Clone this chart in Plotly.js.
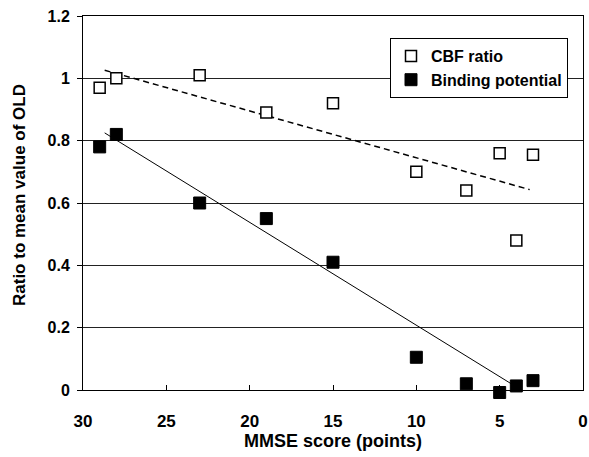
<!DOCTYPE html>
<html>
<head>
<meta charset="utf-8">
<script src="https://cdn.plot.ly/plotly-3.0.1.min.js"></script>
<style>html,body{margin:0;padding:0;background:#fff;}#chart{width:589px;height:457px;}</style>
</head>
<body>
<div id="chart"></div>
<script>
// MMSE score (points) for each subject
const mmse = [29, 28, 23, 19, 15, 10, 7, 5, 4, 3];
// CBF ratio (ratio to mean value of OLD)
const cbfRatio = [0.97, 1.00, 1.01, 0.89, 0.92, 0.70, 0.64, 0.76, 0.48, 0.755];
// Binding potential (ratio to mean value of OLD)
const bindingPotential = [0.78, 0.82, 0.60, 0.55, 0.41, 0.105, 0.02, -0.008, 0.013, 0.03];
// Linear trend lines, end points
const cbfTrendX = [28.7, 3.2];
const cbfTrendY = [1.026, 0.643];
const bpTrendX = [28.7, 3.7];
const bpTrendY = [0.825, 0.0];
const seriesNames = ["CBF ratio", "Binding potential"];
const yTitle = "Ratio to mean value of OLD";
const xTitle = "MMSE score (points)";

const FONT = "Liberation Sans, Arial, sans-serif";
const YMAX = 1.2;
const PLOT_TOP = 16, AXIS_Y = 390, PLOT_BOTTOM = 410; // px
const pxPerUnit = (AXIS_Y - PLOT_TOP) / YMAX;
const extra = (PLOT_BOTTOM - AXIS_Y) / pxPerUnit;
const mainDomainBottom = (PLOT_BOTTOM - AXIS_Y) / (PLOT_BOTTOM - PLOT_TOP);

const traces = [
  {
    x: cbfTrendX, y: cbfTrendY, mode: "lines", showlegend: false,
    line: {color: "#000", width: 1.5, dash: "6px,4px"}, hoverinfo: "skip"
  },
  {
    x: bpTrendX, y: bpTrendY, mode: "lines", showlegend: false,
    line: {color: "#000", width: 1}, hoverinfo: "skip"
  },
  {
    x: mmse, y: cbfRatio, mode: "markers", name: seriesNames[0], cliponaxis: false, yaxis: "y2",
    marker: {symbol: "square", size: 11, color: "#fff", line: {color: "#000", width: 1.5}}
  },
  {
    x: mmse, y: bindingPotential, mode: "markers", name: seriesNames[1], cliponaxis: false, yaxis: "y2",
    marker: {symbol: "square", size: 12, color: "#000", line: {color: "#000", width: 1}}
  }
];

const layout = {
  width: 589, height: 457,
  margin: {l: 83, r: 6, t: PLOT_TOP, b: 457 - PLOT_BOTTOM},
  paper_bgcolor: "#fff", plot_bgcolor: "rgba(0,0,0,0)",
  font: {family: FONT, color: "#000", weight: "bold"},
  showlegend: true,
  legend: {
    x: 0.97, xanchor: "right", y: (PLOT_BOTTOM - 38) / (PLOT_BOTTOM - PLOT_TOP), yanchor: "top",
    bgcolor: "#fff", bordercolor: "#000", borderwidth: 1,
    font: {family: FONT, size: 16, color: "#000", weight: "bold"},
    tracegroupgap: 0, itemwidth: 30
  },
  xaxis: {
    range: [30, 0], dtick: 5, tick0: 0, anchor: "y",
    showgrid: false, zeroline: false,
    showline: true, linecolor: "#000", linewidth: 1, mirror: true,
    ticks: "inside", ticklen: 5, tickcolor: "#000",
    tickfont: {family: FONT, size: 17, color: "#000", weight: "bold"},
    ticklabelstandoff: 16,
    title: {text: xTitle, font: {family: FONT, size: 18, color: "#000", weight: "bold"}, standoff: 3}
  },
  yaxis: {
    range: [0, YMAX], dtick: 0.2, tick0: 0, domain: [mainDomainBottom, 1], anchor: "x",
    showgrid: true, gridcolor: "#222", gridwidth: 1, zeroline: false,
    showline: true, linecolor: "#000", linewidth: 1, mirror: true,
    ticks: "outside", ticklen: 5, tickcolor: "#000",
    tickfont: {family: FONT, size: 16, color: "#000", weight: "bold"},
    ticklabelstandoff: 4
  },
  yaxis2: {
    range: [-extra, YMAX], domain: [0, 1], anchor: "x", visible: false,
    showgrid: false, zeroline: false
  },
  annotations: [{
    text: yTitle, textangle: -90, showarrow: false,
    xref: "paper", yref: "paper",
    x: (19 - 83) / 500, xanchor: "center",
    y: (PLOT_BOTTOM - 195) / (PLOT_BOTTOM - PLOT_TOP), yanchor: "middle",
    font: {family: FONT, size: 17, color: "#000", weight: "bold"}
  }]
};

Plotly.newPlot("chart", traces, layout, {staticPlot: true, displayModeBar: false});
</script>
</body>
</html>
